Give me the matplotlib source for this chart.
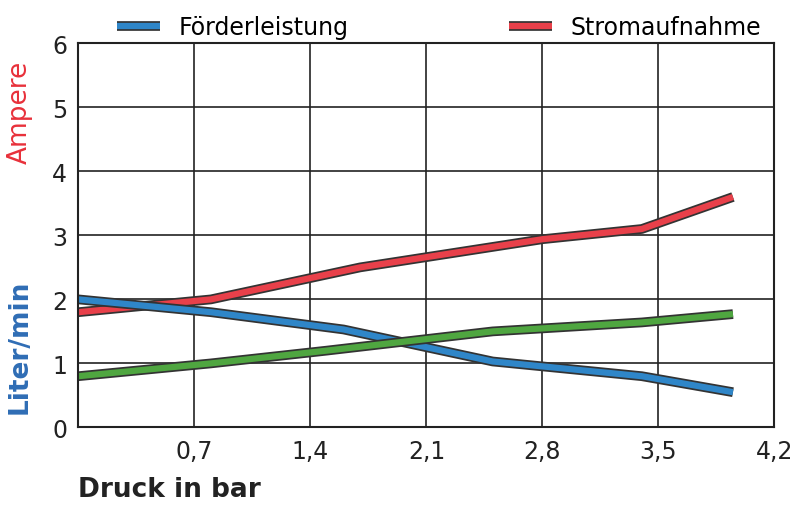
import matplotlib
matplotlib.use("Agg")
import matplotlib.pyplot as plt
import matplotlib.patheffects as pe

x = [0, 0.8, 1.7, 2.8, 3.4, 3.95]
strom = [1.8, 2.0, 2.5, 2.94, 3.1, 3.6]
xb = [0, 0.8, 1.6, 2.5, 3.4, 3.95]
foerder = [2.0, 1.8, 1.53, 1.03, 0.8, 0.55]
xg = [0, 0.8, 1.5, 2.5, 3.4, 3.95]
green = [0.8, 1.0, 1.2, 1.5, 1.64, 1.77]
xticks = [0.7, 1.4, 2.1, 2.8, 3.5, 4.2]
xticklabels = ["0,7", "1,4", "2,1", "2,8", "3,5", "4,2"]

fig = plt.figure(figsize=(8, 5.1), dpi=100)
ax = fig.add_axes([0.098, 0.16, 0.87, 0.753])
eff = [pe.Stroke(linewidth=7, foreground="#333333"), pe.Normal()]
ax.plot(x, strom, color="#e8404a", lw=4.5, path_effects=eff, label="Stromaufnahme", solid_capstyle="butt")
ax.plot(xb, foerder, color="#2f86c8", lw=4.5, path_effects=eff, label="Förderleistung", solid_capstyle="butt")
ax.plot(xg, green, color="#4fa640", lw=4.5, path_effects=eff, solid_capstyle="butt")
ax.set_xlim(0, 4.2)
ax.set_ylim(0, 6)
ax.set_xticks(xticks)
ax.set_xticklabels(xticklabels)
ax.set_yticks(range(7))
ax.grid(True, color="#222222", lw=1.2)
ax.tick_params(labelsize=17, length=0, colors="#222222", pad=8)
for s in ax.spines.values():
    s.set_color("#222222"); s.set_linewidth(1.5)
ax.set_xlabel("Druck in bar", fontsize=19, fontweight="bold", color="#222222", loc="left", labelpad=10)
fig.text(0.025, 0.32, "Liter/min", rotation=90, color="#2f6db5", fontsize=19, fontweight="bold", ha="center", va="center")
fig.text(0.025, 0.78, "Ampere", rotation=90, color="#e8303a", fontsize=19, ha="center", va="center")
h, l = ax.get_legend_handles_labels()
fig.legend([h[1]], [l[1]], loc="upper left", bbox_to_anchor=(0.12, 1.01), frameon=False, fontsize=17, handlelength=1.8)
fig.legend([h[0]], [l[0]], loc="upper left", bbox_to_anchor=(0.61, 1.01), frameon=False, fontsize=17, handlelength=1.8)
fig.savefig("out.png")
